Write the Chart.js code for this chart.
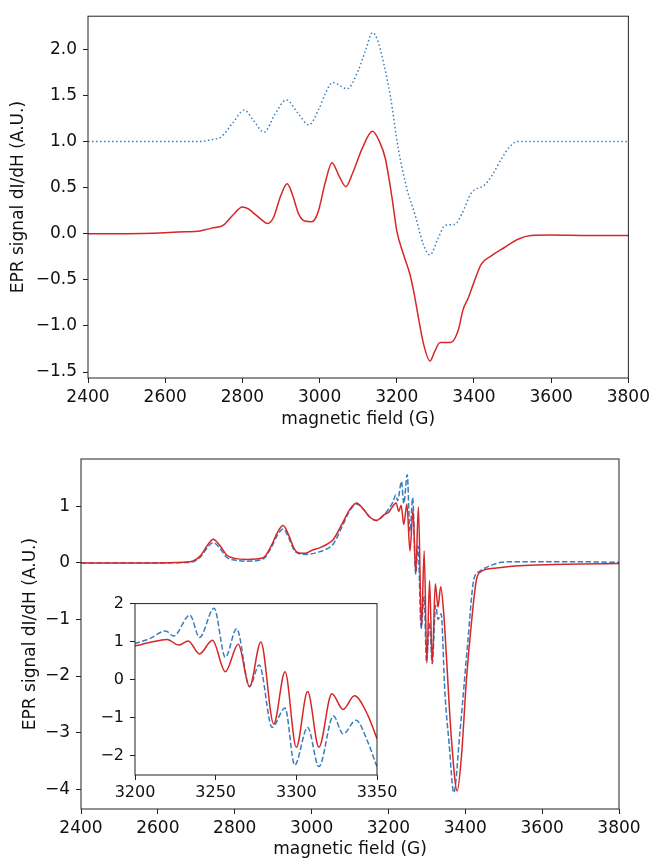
<!DOCTYPE html>
<html>
<head>
<meta charset="utf-8">
<script src="https://cdn.jsdelivr.net/npm/chart.js@4"></script>
<style>
  html, body { margin: 0; padding: 0; background: #fff; }
  #wrap { position: relative; width: 654px; height: 858px; }
  canvas { position: absolute; }
</style>
</head>
<body>
<div id="wrap">
  <canvas id="top" width="654" height="440" style="left:0;top:0"></canvas>
  <canvas id="main" width="654" height="418" style="left:0;top:440px"></canvas>
  <canvas id="inset" width="312" height="222" style="left:90px;top:588px"></canvas>
</div>
<script>
"use strict";

// ---- data ----
// top panel: measured (red) and simulated +1 offset (blue dotted)
const topFieldRed = [2400, 2500, 2600, 2650, 2690, 2720, 2750, 2775, 2800, 2815, 2830, 2850, 2865, 2880, 2900, 2916, 2930, 2945, 2960, 2980, 2995, 3015, 3032, 3050, 3068, 3085, 3110, 3137, 3155, 3170, 3188, 3200, 3217, 3234, 3245, 3256, 3269, 3286, 3298, 3312, 3340, 3359, 3372, 3385, 3398, 3419, 3445, 3479, 3514, 3548, 3600, 3700, 3800];
const topRed = [0.0, 0.0, 0.01, 0.02, 0.03, 0.06, 0.09, 0.2, 0.29, 0.27, 0.22, 0.15, 0.11, 0.17, 0.42, 0.54, 0.42, 0.22, 0.14, 0.13, 0.22, 0.56, 0.77, 0.63, 0.51, 0.65, 0.92, 1.11, 1.0, 0.82, 0.38, 0.03, -0.22, -0.44, -0.65, -0.91, -1.19, -1.38, -1.28, -1.18, -1.18, -1.05, -0.82, -0.7, -0.55, -0.33, -0.24, -0.15, -0.06, -0.02, -0.015, -0.02, -0.02];
const topFieldBlue = [2400, 2600, 2690, 2720, 2745, 2775, 2805, 2830, 2856, 2885, 2914, 2945, 2972, 2998, 3015, 3034, 3055, 3071, 3101, 3120, 3137, 3150, 3166, 3183, 3204, 3226, 3247, 3269, 3286, 3307, 3325, 3350, 3368, 3393, 3428, 3445, 3471, 3492, 3514, 3600, 3800];
const topBlue = [1.0, 1.0, 1.0, 1.02, 1.05, 1.2, 1.34, 1.22, 1.1, 1.3, 1.45, 1.3, 1.18, 1.35, 1.52, 1.64, 1.6, 1.57, 1.78, 2.0, 2.18, 2.1, 1.85, 1.5, 0.92, 0.49, 0.21, -0.12, -0.23, -0.05, 0.09, 0.1, 0.21, 0.44, 0.53, 0.62, 0.81, 0.94, 1.0, 1.0, 1.0];
const topXTicks = [2400, 2600, 2800, 3000, 3200, 3400, 3600, 3800];
const topYTicks = [-1.5, -1.0, -0.5, 0.0, 0.5, 1.0, 1.5, 2.0];

// bottom panel: measured (red) and simulated (blue dashed)
const mainFieldRed = [2400, 2500, 2600, 2683, 2710, 2730, 2744, 2760, 2779, 2800, 2831, 2874, 2895, 2912, 2926, 2940, 2955, 2965, 2985, 3000, 3022, 3040, 3056, 3080, 3100, 3117, 3135, 3150, 3169, 3190, 3200, 3209, 3220, 3227, 3233, 3240, 3248, 3256, 3264, 3271, 3278, 3286, 3293, 3300, 3307, 3314, 3322, 3329, 3336, 3344, 3350, 3364, 3379, 3390, 3403, 3416, 3429, 3442, 3481, 3542, 3629, 3700, 3800];
const mainRed = [0.0, 0.0, 0.0, 0.02, 0.12, 0.32, 0.42, 0.32, 0.14, 0.08, 0.06, 0.09, 0.3, 0.55, 0.66, 0.5, 0.25, 0.18, 0.17, 0.22, 0.27, 0.33, 0.41, 0.7, 0.95, 1.06, 0.95, 0.82, 0.75, 0.86, 0.89, 0.98, 1.06, 0.91, 1.02, 0.68, 1.04, 0.21, 0.93, -0.18, 0.99, -1.16, 0.21, -1.77, -0.31, -1.77, -0.37, -0.78, -0.42, -0.9, -1.55, -3.12, -4.03, -3.42, -2.06, -1.06, -0.3, -0.15, -0.09, -0.05, -0.03, -0.02, -0.01];
const mainFieldBlue = [2400, 2600, 2683, 2710, 2730, 2744, 2760, 2779, 2800, 2831, 2874, 2895, 2912, 2926, 2940, 2955, 2965, 2985, 3000, 3022, 3040, 3056, 3080, 3100, 3117, 3135, 3150, 3169, 3190, 3200, 3212, 3219, 3224, 3234, 3240, 3249, 3256, 3263, 3271, 3277, 3285, 3293, 3299, 3307, 3314, 3323, 3329, 3337, 3347, 3358, 3370, 3386, 3407, 3422, 3437, 3472, 3507, 3600, 3700, 3800];
const mainBlue = [0.0, 0.0, 0.01, 0.1, 0.28, 0.36, 0.27, 0.1, 0.05, 0.03, 0.07, 0.27, 0.5, 0.6, 0.45, 0.22, 0.17, 0.15, 0.16, 0.2, 0.25, 0.33, 0.65, 0.93, 1.04, 0.95, 0.82, 0.75, 0.86, 0.95, 1.08, 1.2, 1.1, 1.44, 1.05, 1.56, 0.55, 1.15, -0.2, 0.3, -1.15, -0.6, -1.75, -1.05, -1.78, -0.75, -1.0, -0.9, -2.3, -3.2, -4.06, -3.0, -1.36, -0.3, -0.15, -0.03, 0.02, 0.02, 0.02, 0.01];
const mainXTicks = [2400, 2600, 2800, 3000, 3200, 3400, 3600, 3800];
const mainYTicks = [-4, -3, -2, -1, 0, 1];

const insetFieldBlue = [3190, 3200, 3209, 3219, 3224, 3234, 3240, 3249, 3256, 3263, 3271, 3277, 3285, 3293, 3299, 3307, 3314, 3323, 3329, 3337, 3344, 3350, 3358];
const insetBlue = [0.92, 0.96, 1.08, 1.28, 1.15, 1.7, 1.11, 1.88, 0.59, 1.34, -0.18, 0.39, -1.25, -0.74, -2.24, -1.25, -2.28, -0.95, -1.42, -1.06, -1.6, -2.28, -3.0];
const insetXTicks = [3200, 3250, 3300, 3350];
const insetYTicks = [-2, -1, 0, 1, 2];

const RED = "#d62728";
const BLUE = "#3a7dbf";
const FONT = "'DejaVu Sans', sans-serif";

const pts = (xs, ys) => xs.map((x, i) => ({ x, y: ys[i] }));
const minus = (s) => String(s).replace("-", "\u2212");

// matplotlib-style full frame around the plot area
const framePlugin = {
  id: "frame",
  beforeDraw(chart, args, opts) {
    if (!opts.fill) return;
    const a = chart.chartArea;
    chart.ctx.save();
    chart.ctx.fillStyle = "#fff";
    chart.ctx.fillRect(a.left, a.top, a.right - a.left, a.bottom - a.top);
    chart.ctx.restore();
  },
  afterDatasetsDraw(chart) {
    const a = chart.chartArea;
    const ctx = chart.ctx;
    ctx.save();
    ctx.strokeStyle = "#222";
    ctx.lineWidth = 1;
    ctx.strokeRect(a.left, a.top, a.right - a.left, a.bottom - a.top);
    ctx.restore();
  },
};

function line(data, color, dash) {
  return {
    data,
    borderColor: color,
    borderWidth: 1.5,
    borderDash: dash || [],
    pointRadius: 0,
    cubicInterpolationMode: "monotone",
    fill: false,
    clip: 0,
  };
}

function axis(cfg) {
  return {
    type: "linear",
    min: cfg.min,
    max: cfg.max,
    afterBuildTicks: (s) => { s.ticks = cfg.ticks.map((v) => ({ value: v })); },
    afterFit: cfg.fit,
    grid: { display: true, drawOnChartArea: false, drawTicks: true, tickLength: 5, color: "#222" },
    border: { display: false },
    ticks: {
      font: { family: FONT, size: cfg.size },
      color: "#111",
      padding: cfg.pad,
      maxRotation: 0,
      autoSkip: false,
      callback: cfg.fmt,
    },
    title: cfg.title
      ? { display: true, text: cfg.title, color: "#111", font: { family: FONT, size: 17, lineHeight: 1 }, padding: cfg.titlePad }
      : { display: false },
  };
}

function makeChart(id, datasets, o) {
  return new Chart(document.getElementById(id), {
    type: "line",
    data: { datasets },
    options: {
      responsive: false,
      animation: false,
      devicePixelRatio: 1,
      layout: { padding: o.padding },
      plugins: { legend: { display: false }, tooltip: { enabled: false }, frame: { fill: !!o.fill } },
      scales: { x: o.x, y: o.y },
    },
    plugins: [framePlugin],
  });
}

// ---- top panel ----
makeChart("top", [
  line(pts(topFieldBlue, topBlue), BLUE, [1.5, 2.5]),
  line(pts(topFieldRed, topRed), RED),
], {
  padding: { left: 0, top: 13, right: 23, bottom: 0 },
  x: axis({ min: 2400, max: 3800, ticks: topXTicks, size: 17, pad: 4, fmt: (v) => String(v),
    fit: (s) => { s.height = 62; }, title: "magnetic field (G)", titlePad: { top: 0, bottom: 11.5 } }),
  y: axis({ min: -1.565, max: 2.358, ticks: topYTicks, size: 17, pad: 6, fmt: (v) => minus(v.toFixed(1)),
    fit: (s) => { s.width = 88; }, title: "EPR signal dI/dH (A.U.)", titlePad: { top: 10.5, bottom: 0 } }),
});

// ---- bottom panel ----
makeChart("main", [
  line(pts(mainFieldRed, mainRed), RED),
  line(pts(mainFieldBlue, mainBlue), BLUE, [5.5, 2.4]),
], {
  padding: { left: 0, top: 19, right: 35, bottom: 0 },
  x: axis({ min: 2400, max: 3800, ticks: mainXTicks, size: 17, pad: 4, fmt: (v) => String(v),
    fit: (s) => { s.height = 49; }, title: "magnetic field (G)", titlePad: { top: 0, bottom: 0 } }),
  y: axis({ min: -4.35, max: 1.837, ticks: mainYTicks, size: 17, pad: 6, fmt: (v) => minus(v),
    fit: (s) => { s.width = 81; }, title: "EPR signal dI/dH (A.U.)", titlePad: { top: 22.5, bottom: 0 } }),
});

// ---- inset ----
const insetRedField = mainFieldRed.filter((x) => x >= 3180 && x <= 3370);
const insetRed = mainRed.filter((_, i) => mainFieldRed[i] >= 3180 && mainFieldRed[i] <= 3370);
makeChart("inset", [
  line(pts(insetRedField, insetRed), RED),
  line(pts(insetFieldBlue, insetBlue), BLUE, [5.5, 2.4]),
], {
  fill: true,
  padding: { left: 0, top: 12, right: 25, bottom: 0 },
  x: axis({ min: 3200, max: 3350, ticks: insetXTicks, size: 16, pad: 3, fmt: (v) => String(v),
    fit: (s) => { s.height = 35; } }),
  y: axis({ min: -2.5, max: 2.0, ticks: insetYTicks, size: 16, pad: 6, fmt: (v) => minus(v),
    fit: (s) => { s.width = 45; } }),
});
</script>
</body>
</html>
